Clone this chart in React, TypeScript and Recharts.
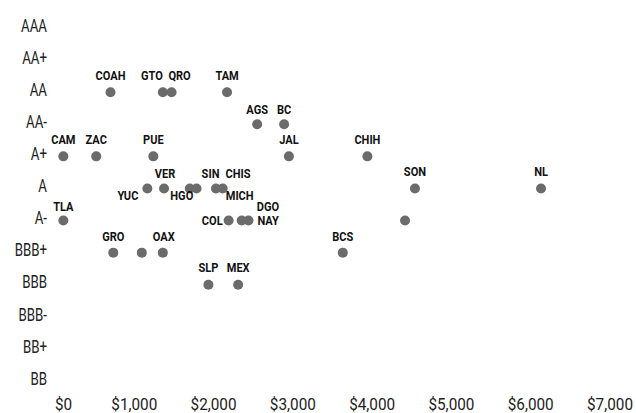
import { ScatterChart, Scatter, XAxis, YAxis } from "recharts";

// rating scale, lowest first
const ratingScale = ["BB", "BB+", "BBB-", "BBB", "BBB+", "A-", "A", "A+", "AA-", "AA", "AA+", "AAA"];

const stateCodes = [
  "COAH", "GTO", "QRO", "TAM",
  "AGS", "BC",
  "CAM", "ZAC", "PUE", "JAL", "CHIH",
  "YUC", "VER", "HGO", "SIN", "CHIS", "MICH", "SON", "NL",
  "TLA", "COL", "DGO", "NAY", "",
  "GRO", "", "OAX", "BCS",
  "SLP", "MEX",
];

const debtPerCapita = [
  700, 1360, 1470, 2170,
  2550, 2890,
  105, 520, 1240, 2950, 3940,
  1165, 1375, 1700, 1785, 2030, 2115, 4540, 6130,
  105, 2190, 2355, 2440, 4415,
  735, 1095, 1360, 3630,
  1935, 2310,
];

const stateRatings = [
  "AA", "AA", "AA", "AA",
  "AA-", "AA-",
  "A+", "A+", "A+", "A+", "A+",
  "A", "A", "A", "A", "A", "A", "A", "A",
  "A-", "A-", "A-", "A-", "A-",
  "BBB+", "BBB+", "BBB+", "BBB+",
  "BBB", "BBB",
];

const xTicks = [0, 1000, 2000, 3000, 4000, 5000, 6000, 7000];

const chartData = stateCodes.map((code, i) => ({
  code,
  debt: debtPerCapita[i],
  rating: ratingScale.indexOf(stateRatings[i]),
}));

// where each label sits relative to its dot (offsets of the text centre)
type Placement = { dx: number; dy: number; anchor: "start" | "middle" | "end" };
const defaultPlacement: Placement = { dx: 0, dy: -17, anchor: "middle" };
const labelPlacement: Record<string, Placement> = {
  GTO: { dx: -11, dy: -17, anchor: "middle" },
  QRO: { dx: 8, dy: -17, anchor: "middle" },
  AGS: { dx: 0, dy: -15, anchor: "middle" },
  BC: { dx: 0, dy: -15, anchor: "middle" },
  VER: { dx: 1, dy: -15, anchor: "middle" },
  SIN: { dx: 14, dy: -15, anchor: "middle" },
  CHIS: { dx: 22, dy: -15, anchor: "middle" },
  YUC: { dx: -9, dy: 7, anchor: "end" },
  HGO: { dx: -8, dy: 7, anchor: "middle" },
  MICH: { dx: 17, dy: 7, anchor: "middle" },
  TLA: { dx: 0, dy: -14, anchor: "middle" },
  COL: { dx: -6, dy: 0, anchor: "end" },
  DGO: { dx: 15, dy: -14.5, anchor: "start" },
  NAY: { dx: 9, dy: 0, anchor: "start" },
  GRO: { dx: 0, dy: -16, anchor: "middle" },
  OAX: { dx: 1, dy: -16, anchor: "middle" },
  BCS: { dx: 0, dy: -16, anchor: "middle" },
};

const font = "Roboto, 'Noto Sans', sans-serif";

const Dot = (props: any) => {
  const { cx, cy, payload } = props;
  const code: string = payload.code;
  const p = labelPlacement[code] || defaultPlacement;
  return (
    <g>
      <circle cx={cx} cy={cy} r={5} fill="#6b6b6b" />
      {code && (
        <text
          transform={`translate(${cx + p.dx},${cy + p.dy + 4.6}) scale(0.85,1)`}
          textAnchor={p.anchor}
          fontFamily={font}
          fontWeight="bold"
          fontSize={13}
          fill="#111"
        >
          {code}
        </text>
      )}
    </g>
  );
};

const XTick = (props: any) => {
  const { x, y, payload } = props;
  const v: number = payload.value;
  return (
    <text
      transform={`translate(${x},${y + 12}) scale(0.9,1)`}
      textAnchor={v === 0 ? "start" : "middle"}
      fontFamily={font}
      fontSize={17}
      fill="#222"
    >
      {"$" + v.toLocaleString("en-US")}
    </text>
  );
};

const YTick = (props: any) => {
  const { x, y, payload } = props;
  return (
    <text
      transform={`translate(${x},${y - 3}) scale(0.7,1)`}
      dy="0.355em"
      textAnchor="end"
      fontFamily={font}
      fontSize={19}
      fill="#222"
    >
      {ratingScale[payload.value]}
    </text>
  );
};

export default function App() {
  return (
    <div style={{ position: "absolute", left: 0, top: 0 }}>
      <ScatterChart width={636} height={413} margin={{ top: 28, right: 26, bottom: 0, left: 0 }}>
        <XAxis
          type="number"
          dataKey="debt"
          domain={[0, 7000]}
          ticks={xTicks}
          axisLine={false}
          tickLine={false}
          tickSize={0}
          tickMargin={17}
          height={32}
          tick={<XTick />}
          interval={0}
        />
        <YAxis
          type="number"
          dataKey="rating"
          domain={[0, 11]}
          ticks={ratingScale.map((_, i) => i)}
          axisLine={false}
          tickLine={false}
          tickSize={0}
          tickMargin={8}
          width={55}
          interval={0}
          tick={<YTick />}
        />
        <Scatter data={chartData} shape={<Dot />} isAnimationActive={false} />
      </ScatterChart>
    </div>
  );
}
